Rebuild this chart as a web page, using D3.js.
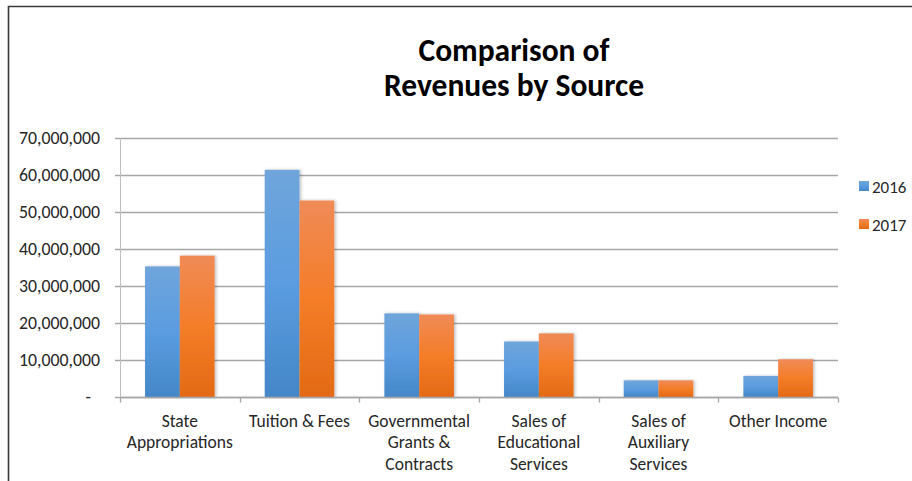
<!DOCTYPE html>
<html>
<head>
<meta charset="utf-8">
<script src="https://cdnjs.cloudflare.com/ajax/libs/d3/7.8.5/d3.min.js"></script>
<style>
  body { margin: 0; background: #fff; }
  svg { display: block; font-family: Carlito, Calibri, Lato, sans-serif; }
</style>
</head>
<body>
<div id="chart"></div>
<script>
var categories = [
  ['State', 'Appropriations'],
  ['Tuition & Fees'],
  ['Governmental', 'Grants &', 'Contracts'],
  ['Sales of', 'Educational', 'Services'],
  ['Sales of', 'Auxiliary', 'Services'],
  ['Other Income']
];
var years = ['2016', '2017'];
var revenue2016 = [35300000, 61400000, 22600000, 15000000, 4500000, 5700000];
var revenue2017 = [38200000, 53100000, 22300000, 17200000, 4500000, 10200000];
var yTicks = [0, 10000000, 20000000, 30000000, 40000000, 50000000, 60000000, 70000000];

var W = 912, H = 481;
var margin = { left: 120, right: 74, top: 138, bottom: 84 };

var svg = d3.select('#chart').append('svg')
  .attr('width', W)
  .attr('height', H);

var defs = svg.append('defs');

var grads = [
  { id: 'g2016', stops: ['#6fa5db', '#5b9ce0', '#4487c8'] },
  { id: 'g2017', stops: ['#f08b57', '#f47d28', '#e36a15'] }
];
grads.forEach(function(g) {
  var lg = defs.append('linearGradient')
    .attr('id', g.id)
    .attr('x1', 0).attr('y1', 0).attr('x2', 0).attr('y2', 1);
  lg.append('stop').attr('offset', '0%').attr('stop-color', g.stops[0]);
  lg.append('stop').attr('offset', '50%').attr('stop-color', g.stops[1]);
  lg.append('stop').attr('offset', '100%').attr('stop-color', g.stops[2]);
});

var shadow = defs.append('filter')
  .attr('id', 'shadow')
  .attr('x', '-20%').attr('y', '-5%').attr('width', '140%').attr('height', '110%');
shadow.append('feDropShadow')
  .attr('dx', 1.5).attr('dy', 0)
  .attr('stdDeviation', 1.5)
  .attr('flood-color', '#000')
  .attr('flood-opacity', 0.25);

// chart border (only left and top visible in the crop)
svg.append('path')
  .attr('d', 'M8.5,' + H + 'V6.5H' + W)
  .attr('fill', 'none')
  .attr('stroke', '#3a3a3a')
  .attr('stroke-width', 1.6);

var x0 = d3.scaleBand()
  .domain(d3.range(categories.length))
  .range([margin.left, W - margin.right]);

var x1 = d3.scaleBand()
  .domain(years)
  .range([0, x0.bandwidth()])
  .paddingOuter(0.72)
  .paddingInner(0);

var y = d3.scaleLinear()
  .domain([0, 70000000])
  .range([H - margin.bottom, margin.top]);

// gridlines
svg.append('g')
  .selectAll('line')
  .data(yTicks)
  .enter().append('line')
  .attr('x1', margin.left - 5)
  .attr('x2', W - margin.right)
  .attr('y1', function(d) { return Math.round(y(d)) + 0.5; })
  .attr('y2', function(d) { return Math.round(y(d)) + 0.5; })
  .attr('stroke', '#a6a6a6')
  .attr('stroke-width', 1.3);

// y axis line
svg.append('line')
  .attr('x1', margin.left + 0.5).attr('x2', margin.left + 0.5)
  .attr('y1', margin.top).attr('y2', H - margin.bottom + 5)
  .attr('stroke', '#bfbfbf')
  .attr('stroke-width', 1);

// y labels
svg.append('g')
  .selectAll('text')
  .data(yTicks)
  .enter().append('text')
  .attr('x', function(d) { return d === 0 ? 91 : 100; })
  .attr('y', function(d) { return y(d) + 6; })
  .attr('text-anchor', 'end')
  .attr('font-size', 17.8)
  .attr('fill', '#262626')
  .text(function(d) { return d === 0 ? '-' : d3.format(',')(d); });

// bars
var series = [revenue2016, revenue2017];
var groups = svg.append('g')
  .selectAll('g')
  .data(categories)
  .enter().append('g')
  .attr('transform', function(d, i) { return 'translate(' + x0(i) + ',0)'; });

groups.selectAll('rect')
  .data(function(d, i) { return years.map(function(yr, k) { return { year: yr, value: series[k][i] }; }); })
  .enter().append('rect')
  .attr('x', function(d) { return x1(d.year); })
  .attr('width', x1.bandwidth())
  .attr('y', function(d) { return y(d.value); })
  .attr('height', function(d) { return y(0) - y(d.value); })
  .attr('fill', function(d) { return 'url(#g' + d.year + ')'; })
  .attr('filter', 'url(#shadow)');

// x axis line and category ticks
var xb = Math.round(y(0)) + 0.5;
svg.append('line')
  .attr('x1', margin.left).attr('x2', W - margin.right)
  .attr('y1', xb).attr('y2', xb)
  .attr('stroke', '#a6a6a6')
  .attr('stroke-width', 1.3);

svg.append('g')
  .selectAll('line')
  .data(d3.range(categories.length + 1))
  .enter().append('line')
  .attr('x1', function(i) { return Math.round(margin.left + i * x0.bandwidth()) + 0.5; })
  .attr('x2', function(i) { return Math.round(margin.left + i * x0.bandwidth()) + 0.5; })
  .attr('y1', xb)
  .attr('y2', xb + 5)
  .attr('stroke', '#a6a6a6')
  .attr('stroke-width', 1.3);

// category labels
groups.append('text')
  .attr('text-anchor', 'middle')
  .attr('font-size', 17.5)
  .attr('fill', '#262626')
  .selectAll('tspan')
  .data(function(d) { return d; })
  .enter().append('tspan')
  .attr('x', x0.bandwidth() / 2)
  .attr('y', function(d, j) { return 426.5 + j * 21.7; })
  .text(function(d) { return d; });

// title
var title = svg.append('text')
  .attr('text-anchor', 'middle')
  .attr('font-size', 31.5)
  .attr('font-weight', 'bold')
  .attr('fill', '#000');
title.append('tspan').attr('x', 514).attr('y', 61).text('Comparison of');
title.append('tspan').attr('x', 514).attr('y', 96).text('Revenues by Source');

// legend
var legend = svg.append('g')
  .selectAll('g')
  .data(years)
  .enter().append('g')
  .attr('transform', function(d, i) { return 'translate(859,' + (181 + i * 38) + ')'; });

legend.append('rect')
  .attr('width', 10).attr('height', 10)
  .attr('fill', function(d) { return 'url(#g' + d + ')'; });

legend.append('text')
  .attr('x', 13)
  .attr('y', 11.5)
  .attr('font-size', 17)
  .attr('fill', '#262626')
  .text(function(d) { return d; });
</script>
</body>
</html>
